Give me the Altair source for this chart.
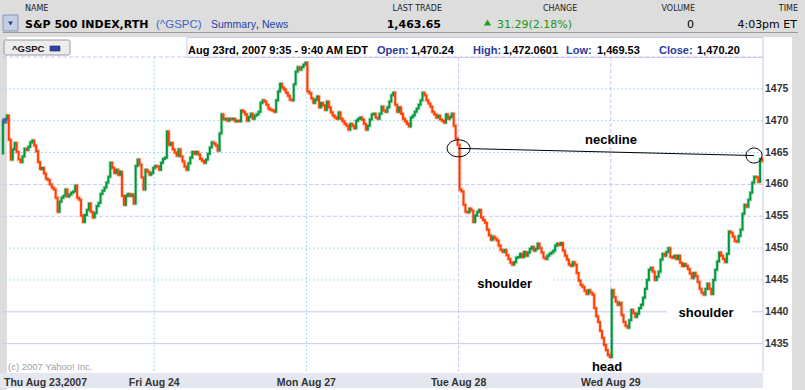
import altair as alt
import pandas as pd

# ---------------- data (5-minute closes) ----------------
THU = [1469.9, 1470.2, 1470.8, 1467.0, 1463.9, 1465.5, 1466.5, 1465.1, 1463.9, 1463.5,
       1464.4, 1465.6, 1465.4, 1465.9, 1466.6, 1466.9, 1466.1, 1465.2, 1463.5, 1462.4,
       1462.6, 1461.7, 1460.9, 1460.7, 1460.0, 1459.5, 1459.2, 1457.9, 1455.7, 1457.3,
       1457.9, 1458.2, 1459.2, 1458.1, 1458.4, 1458.7, 1458.9, 1459.8, 1457.9, 1457.6,
       1455.1, 1454.1, 1455.2, 1456.0, 1457.0, 1455.7, 1454.8, 1455.5, 1456.6, 1457.1,
       1458.5, 1459.0, 1459.5, 1460.3, 1461.2, 1463.4, 1462.6, 1461.8, 1462.3, 1461.5,
       1462.0, 1458.2, 1456.8, 1458.2, 1458.5, 1458.2, 1458.4, 1457.0, 1462.9, 1463.9,
       1463.1, 1461.1, 1459.2, 1462.3, 1462.0, 1461.5, 1461.8, 1462.6]
FRI = [1462.9, 1462.8, 1462.3, 1463.4, 1464.0, 1464.2, 1468.3, 1466.2, 1466.5, 1465.5,
       1465.0, 1464.5, 1465.5, 1464.4, 1463.6, 1462.8, 1462.3, 1463.3, 1464.2, 1465.1,
       1464.8, 1465.1, 1464.7, 1464.0, 1463.7, 1463.4, 1463.9, 1464.8, 1465.8, 1466.6,
       1466.4, 1466.1, 1465.3, 1468.0, 1471.0, 1470.2, 1470.3, 1470.0, 1470.3, 1470.2,
       1470.3, 1469.9, 1470.0, 1469.9, 1471.6, 1471.4, 1471.0, 1470.0, 1470.6, 1471.1,
       1470.3, 1470.8, 1471.0, 1471.4, 1472.8, 1473.2, 1473.0, 1472.5, 1471.9, 1471.7,
       1471.6, 1471.4, 1473.2, 1474.6, 1475.8, 1475.2, 1474.9, 1474.4, 1473.9, 1473.3,
       1473.2, 1475.7, 1477.7, 1478.4, 1478.0, 1478.4, 1478.8, 1479.1]
MON = [1474.6, 1474.3, 1473.5, 1472.8, 1473.3, 1473.8, 1472.1, 1472.8, 1472.4, 1471.7,
       1473.0, 1472.1, 1471.3, 1470.8, 1470.5, 1470.3, 1471.3, 1470.3, 1469.9, 1469.5,
       1469.2, 1468.6, 1469.5, 1469.2, 1468.8, 1470.0, 1470.3, 1470.5, 1470.2, 1469.5,
       1468.6, 1469.2, 1470.2, 1471.0, 1471.1, 1470.5, 1470.3, 1471.1, 1472.2, 1471.6,
       1471.4, 1472.1, 1473.0, 1474.0, 1474.4, 1472.5, 1471.4, 1472.1, 1471.1, 1470.3,
       1469.9, 1469.5, 1469.1, 1470.5, 1470.8, 1471.4, 1471.9, 1472.5, 1473.2, 1474.4,
       1474.0, 1473.2, 1472.7, 1472.2, 1471.4, 1471.0, 1470.5, 1470.8, 1470.2, 1470.0,
       1469.7, 1471.0, 1470.3, 1470.6, 1471.1, 1469.2, 1467.2, 1466.2]
TUE = [1459.2, 1458.9, 1456.8, 1455.7, 1455.6, 1456.2, 1455.9, 1454.1, 1455.1, 1455.7,
       1456.0, 1454.8, 1454.4, 1454.0, 1452.9, 1452.0, 1451.3, 1451.8, 1451.5, 1451.2,
       1450.4, 1449.7, 1449.4, 1449.7, 1448.9, 1448.3, 1447.7, 1447.4, 1447.8, 1448.5,
       1448.6, 1449.1, 1448.6, 1449.4, 1448.8, 1449.3, 1449.9, 1450.2, 1449.6, 1449.9,
       1450.7, 1450.0, 1449.3, 1448.5, 1448.3, 1448.8, 1449.1, 1449.3, 1449.6, 1450.4,
       1450.7, 1450.5, 1450.8, 1449.6, 1448.8, 1448.2, 1447.4, 1447.2, 1447.8, 1447.4,
       1446.1, 1444.9, 1444.2, 1443.9, 1443.3, 1442.8, 1443.4, 1443.0, 1442.7, 1440.6,
       1439.3, 1438.4, 1437.0, 1435.9, 1434.8, 1434.0, 1433.2, 1432.9]
WED = [1443.4, 1442.3, 1441.6, 1441.1, 1441.4, 1439.5, 1438.4, 1437.8, 1437.5, 1438.7,
       1440.3, 1439.8, 1439.2, 1439.7, 1440.6, 1441.1, 1442.2, 1443.6, 1445.0, 1446.6,
       1446.9, 1446.3, 1445.0, 1445.5, 1446.3, 1448.2, 1449.1, 1448.8, 1449.4, 1450.0,
       1448.6, 1448.5, 1448.8, 1448.3, 1448.8, 1447.7, 1447.2, 1447.5, 1447.2, 1446.7,
       1446.0, 1445.3, 1446.1, 1445.6, 1444.7, 1443.6, 1443.0, 1442.7, 1443.6, 1444.4,
       1443.6, 1442.8, 1445.0, 1446.6, 1447.9, 1449.3, 1448.8, 1448.3, 1447.8, 1449.1,
       1452.6, 1452.4, 1451.8, 1451.1, 1451.0, 1451.9, 1452.9, 1455.4, 1456.8, 1456.5,
       1457.6, 1458.7, 1460.3, 1461.2, 1461.1, 1460.4, 1464.0, 1463.65]
FIRST_OPEN = 1464.9

DAY_LABELS = ["Thu Aug 23,2007", "Fri Aug 24", "Mon Aug 27", "Tue Aug 28", "Wed Aug 29"]
DAY_START = [0, 78, 156, 234, 312]
Y_TICKS = [1435, 1440, 1445, 1450, 1455, 1460, 1465, 1470, 1475]
GRID_DOTTED = [1475, 1470, 1465, 1450, 1445]
GRID_DASHED = [1480, 1460, 1455]
GRID_SOLID = [1440, 1435]
VGRID_DOTTED = [78, 156]
VGRID_DASHED = [234, 312]

NECK_X = [234.0, 385.4]
NECK_Y = [1465.66, 1464.53]
ANN_TEXT = ["neckline", "shoulder", "head", "shoulder"]
ANN_X = [312.1, 257.6, 310.1, 360.8]
ANN_Y = [1466.4, 1443.8, 1430.7, 1439.2]
BOX_X1 = [235.3, 340.8]
BOX_X2 = [282.4, 384.4]
BOX_Y1 = [1446.1, 1441.4]
BOX_Y2 = [1443.1, 1438.4]
HOVER_X = [1.4]
HOVER_Y = [1469.95]

# ---------------- tables ----------------
closes = THU + FRI + MON + TUE + WED
opens = [FIRST_OPEN] + closes[:-1]
df = pd.DataFrame({"i": list(range(len(closes))), "open": opens, "close": closes})
df["c"] = df["i"] + 0.5
df["dir"] = ["up" if c >= o else "down" for o, c in zip(opens, closes)]

GREEN = "#00963c"
RED = "#ff3d00"
BLUE_DOT = "#a6dcf2"
LAV = "#c9c9ef"
HATCH = "#dddddd"

XS = alt.Scale(domain=[0, 390], nice=False, zero=False)
YS = alt.Scale(domain=[1430.55, 1480.0], nice=False, zero=False)

OX, OY = 2, 57
one = pd.DataFrame({"k": [0]})


def box(x1, y1, x2, y2, fill, stroke=None, sw=1.0, r=0):
    kw = dict(fill=fill)
    if stroke:
        kw.update(stroke=stroke, strokeWidth=sw)
    if r:
        kw["cornerRadius"] = r
    return alt.Chart(one).mark_rect(**kw).encode(
        x=alt.value(x1 - OX), x2=alt.value(x2 - OX),
        y=alt.value(y1 - OY), y2=alt.value(y2 - OY))


def label(t, x, y, size, color="#000000", weight="normal", font="DejaVu Sans", align="left"):
    return alt.Chart(one).mark_text(
        text=t, fontSize=size, font=font, fontWeight=weight, color=color,
        align=align, baseline="alphabetic").encode(
        x=alt.value(x - OX), y=alt.value(y - OY))


LIB = "Liberation Sans"

# ---------------- background / page furniture ----------------
layers = [
    box(0, 0, 805, 390, HATCH),
    box(7, 37, 792, 390, "#ffffff"),
    box(0, 373, 763, 388, "#e4e7ef"),
    box(187, 37.5, 763, 57.5, "#ffffff", stroke=LAV),
    box(3, 32, 798, 33, "#9a9a9a"),
    box(3, 15, 18, 31, "#c6cee2", stroke="#8a96b8"),
    alt.Chart(one).mark_point(shape="triangle-down", filled=True, size=22, color="#243c8c", opacity=1).encode(
        x=alt.value(10.5 - OX), y=alt.value(23.5 - OY)),
    box(4, 40, 70, 55, "#ececec", stroke="#9a9a9a", r=2),
    label("^GSPC", 12, 51.5, 9.5, "#111111", "bold", LIB),
    box(50, 46, 60, 51, "#3345a0", stroke="#1c2560", sw=0.6),
    # header row 1
    label("NAME", 25, 10.5, 8, "#222222"),
    label("LAST TRADE", 442, 10.5, 8, "#222222", align="right"),
    label("CHANGE", 543, 10.5, 8, "#222222"),
    label("VOLUME", 695, 10.5, 8, "#222222", align="right"),
    label("TIME", 798, 10.5, 8, "#222222", align="right"),
    # header row 2
    label("S&P 500 INDEX,RTH", 25, 28, 11, "#000000", "bold"),
    label("(^GSPC)", 156, 28, 11.5, "#3a66c8", "normal", LIB),
    label("Summary", 211, 28, 10.5, "#1e3ea8", "normal", LIB),
    label(",", 256, 28, 10.5, "#000000", "normal", LIB),
    label("News", 262, 28, 10.5, "#1e3ea8", "normal", LIB),
    label("1,463.65", 441, 28, 11, "#000000", "bold", align="right"),
    alt.Chart(one).mark_point(shape="triangle-up", filled=True, size=50, color="#1aa01a", opacity=1).encode(
        x=alt.value(487.5 - OX), y=alt.value(22.5 - OY)),
    label("31.29(2.18%)", 497, 28, 11, "#1a951a"),
    label("0", 694, 28, 11, "#000000", align="right"),
    label("4:03pm ET", 797, 28, 11, "#000000", align="right"),
    # info line
    label("Aug 23rd, 2007 9:35 - 9:40 AM EDT", 188, 53.5, 11, "#000000", "bold", LIB),
    label("Open:", 377, 53.5, 11, "#2b3a98", "bold", LIB),
    label("1,470.24", 411, 53.5, 11, "#000000", "bold", LIB),
    label("High:", 473, 53.5, 11, "#2b3a98", "bold", LIB),
    label("1,472.0601", 503, 53.5, 11, "#000000", "bold", LIB),
    label("Low:", 566, 53.5, 11, "#2b3a98", "bold", LIB),
    label("1,469.53", 597, 53.5, 11, "#000000", "bold", LIB),
    label("Close:", 659, 53.5, 11, "#2b3a98", "bold", LIB),
    label("1,470.20", 697, 53.5, 11, "#000000", "bold", LIB),
    label("(c) 2007 Yahoo! Inc.", 8, 369.5, 9.5, "#a0a0a0", "normal", LIB),
]

# ---------------- grid ----------------
def hgrid(levels, color, dash=None):
    kw = dict(color=color, strokeWidth=1)
    if dash:
        kw["strokeDash"] = dash
    return alt.Chart(pd.DataFrame({"lvl": levels})).mark_rule(**kw).encode(
        y=alt.Y("lvl:Q", scale=YS, axis=None))


def vgrid(pos, color, dash=None):
    kw = dict(color=color, strokeWidth=1)
    if dash:
        kw["strokeDash"] = dash
    return alt.Chart(pd.DataFrame({"pos": pos})).mark_rule(**kw).encode(
        x=alt.X("pos:Q", scale=XS, axis=None))


boxes_df = pd.DataFrame({"x1": BOX_X1, "x2": BOX_X2, "y1": BOX_Y1, "y2": BOX_Y2})
ann_df = pd.DataFrame({"t": ANN_TEXT, "x": ANN_X, "y": ANN_Y})
neck_df = pd.DataFrame({"x": NECK_X, "y": NECK_Y})
hover_df = pd.DataFrame({"x": HOVER_X, "y": HOVER_Y})
xlab_df = pd.DataFrame({"x": DAY_START, "t": DAY_LABELS})
ylab_df = pd.DataFrame({"y": Y_TICKS, "t": [str(v) for v in Y_TICKS]})

layers += [
    hgrid(GRID_DOTTED, BLUE_DOT, [2, 2]),
    hgrid(GRID_DASHED, LAV, [4, 2]),
    hgrid(GRID_SOLID, LAV),
    alt.Chart(boxes_df).mark_rect(fill="#ffffff").encode(
        x=alt.X("x1:Q", scale=XS, axis=None), x2="x2:Q",
        y=alt.Y("y1:Q", scale=YS, axis=None), y2="y2:Q"),
    vgrid(VGRID_DOTTED, BLUE_DOT, [2, 2]),
    vgrid(VGRID_DASHED, LAV, [4, 2]),
    vgrid([390], LAV),
]

# ---------------- candles ----------------
color_enc = alt.Color("dir:N", scale=alt.Scale(domain=["up", "down"], range=[GREEN, RED]), legend=None)

halo = alt.Chart(df).mark_rule(strokeWidth=3.6, strokeCap="square", opacity=0.28).encode(
    x=alt.X("c:Q", scale=XS, axis=None),
    y=alt.Y("open:Q", scale=YS, axis=None),
    y2="close:Q",
    color=color_enc)

candles = alt.Chart(df).mark_rule(strokeWidth=1.9, strokeCap="square").encode(
    x=alt.X("c:Q", scale=XS, axis=None),
    y=alt.Y("open:Q", scale=YS, axis=None),
    y2="close:Q",
    color=color_enc)

layers += [halo, candles]

# ---------------- axis labels as text ----------------
layers += [
    alt.Chart(xlab_df.iloc[[0]]).mark_text(font=LIB, fontSize=10.5, fontWeight="bold", color="#333333",
                                           align="left", baseline="alphabetic", dx=2).encode(
        x=alt.X("x:Q", scale=XS, axis=None), y=alt.value(385.5 - OY), text="t:N"),
    alt.Chart(xlab_df.iloc[1:]).mark_text(font=LIB, fontSize=10.5, fontWeight="bold", color="#333333",
                                          align="center", baseline="alphabetic").encode(
        x=alt.X("x:Q", scale=XS, axis=None), y=alt.value(385.5 - OY), text="t:N"),
    alt.Chart(ylab_df).mark_text(font=LIB, fontSize=10.5, fontWeight="bold", color="#333333",
                                 align="left", baseline="middle").encode(
        x=alt.value(765 - OX), y=alt.Y("y:Q", scale=YS, axis=None), text="t:N"),
]

# ---------------- annotations ----------------
layers += [
    alt.Chart(neck_df).mark_line(color="#000000", strokeWidth=1).encode(
        x=alt.X("x:Q", scale=XS, axis=None), y=alt.Y("y:Q", scale=YS, axis=None)),
    alt.Chart(neck_df.iloc[[0]]).mark_point(
        shape="M -1 0 A 1 0.74 0 1 1 1 0 A 1 0.74 0 1 1 -1 0 Z",
        size=529, filled=False, stroke="#000000", strokeWidth=1, opacity=1).encode(
        x=alt.X("x:Q", scale=XS, axis=None), y=alt.Y("y:Q", scale=YS, axis=None)),
    alt.Chart(neck_df.iloc[[1]]).mark_point(
        shape="M -1 0 A 1 0.94 0 1 1 1 0 A 1 0.94 0 1 1 -1 0 Z",
        size=256, filled=False, stroke="#000000", strokeWidth=1, opacity=1).encode(
        x=alt.X("x:Q", scale=XS, axis=None), y=alt.Y("y:Q", scale=YS, axis=None)),
    alt.Chart(ann_df).mark_text(font=LIB, fontSize=13, fontWeight="bold", color="#000000",
                                align="center", baseline="alphabetic").encode(
        x=alt.X("x:Q", scale=XS, axis=None), y=alt.Y("y:Q", scale=YS, axis=None), text="t:N"),
    alt.Chart(hover_df).mark_square(size=30, color="#4a5aa0", opacity=0.75).encode(
        x=alt.X("x:Q", scale=XS, axis=None), y=alt.Y("y:Q", scale=YS, axis=None)),
]

chart = alt.layer(*layers).properties(
    width=761, height=315,
    autosize=alt.AutoSizeParams(type="none"),
    padding={"left": 2, "top": 57, "right": 42, "bottom": 18},
    background="#ffffff",
).configure_view(strokeWidth=0)

chart.save("out.html", embed_options={"renderer": "svg", "actions": False})
